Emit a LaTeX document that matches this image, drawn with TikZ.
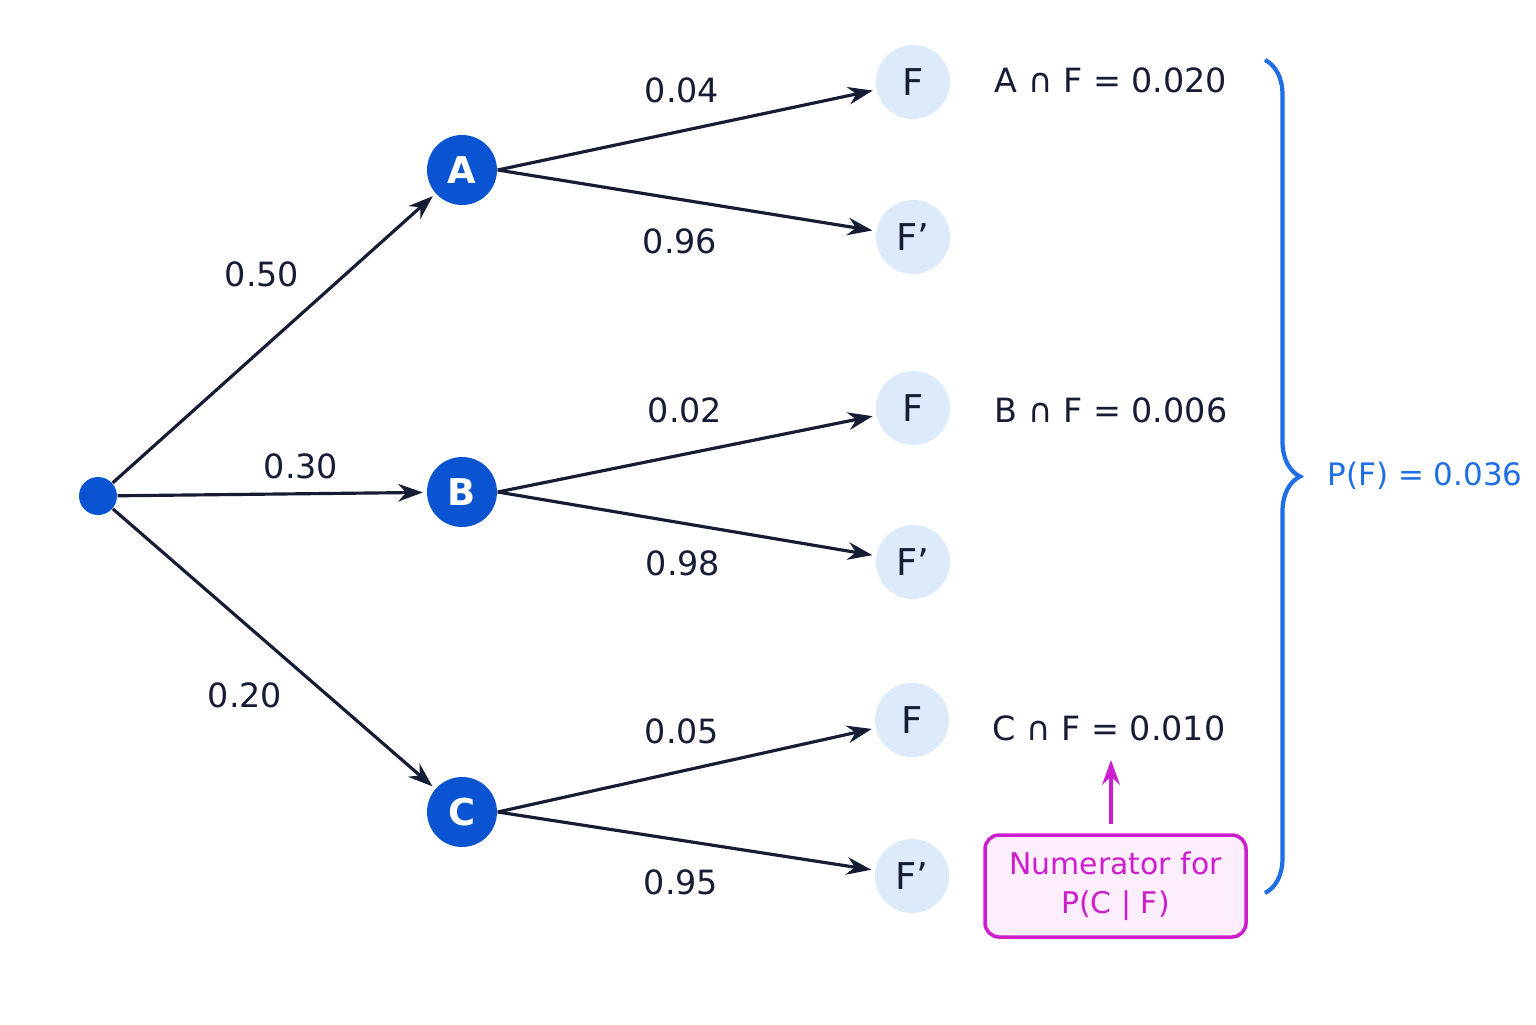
\documentclass[tikz,border=0pt]{standalone}
\usepackage{fontspec}
\setmainfont{DejaVu Sans}
\usetikzlibrary{positioning,arrows.meta,decorations.pathreplacing}
\definecolor{navy}{RGB}{22,28,52}
\definecolor{nodeblue}{RGB}{10,84,210}
\definecolor{leafblue}{RGB}{220,234,250}
\definecolor{bracecol}{RGB}{30,110,230}
\definecolor{magent}{RGB}{205,30,205}
\definecolor{pinkfill}{RGB}{252,238,252}
\begin{document}
\begin{tikzpicture}[x=1cm,y=1cm,>={Stealth[length=7pt,width=5pt]},
	branch/.style={->,draw=navy,line width=0.9pt,shorten >=1pt},
	main node/.style={circle,fill=nodeblue,text=white,minimum size=0.7cm,inner sep=0pt,font=\fontsize{10.5}{12}\selectfont\bfseries},
	leaf node/.style={circle,fill=leafblue,text=navy,minimum size=0.74cm,inner sep=0pt,font=\fontsize{10.5}{12}\selectfont},
	prob/.style={text=navy,font=\fontsize{9.5}{12}\selectfont},
	joint/.style={text=navy,font=\fontsize{9.5}{12}\selectfont}]
	
	\useasboundingbox (0,0) rectangle (15.36,10.24);
	\fill[white] (0,0) rectangle (15.36,10.24);
	
	\node[circle,fill=nodeblue,minimum size=0.38cm,inner sep=0pt] (root) at (0.98,5.28) {};
	\node[main node] (a) at (4.62,8.54) {A};
	\node[main node] (b) at (4.62,5.32) {B};
	\node[main node] (c) at (4.62,2.12) {C};
	
	\node[leaf node] (af) at (9.13,9.42) {F};
	\node[leaf node] (an) at (9.13,7.87) {F'};
	\node[leaf node] (bf) at (9.13,6.16) {F};
	\node[leaf node] (bn) at (9.13,4.62) {F'};
	\node[leaf node] (cf) at (9.12,3.04) {F};
	\node[leaf node] (cn) at (9.12,1.48) {F'};
	
	\draw[branch] (root) -- (a);
	\draw[branch] (root) -- (b);
	\draw[branch] (root) -- (c);
	\draw[branch] (a.east) -- (af);
	\draw[branch] (a.east) -- (an);
	\draw[branch] (b.east) -- (bf);
	\draw[branch] (b.east) -- (bn);
	\draw[branch] (c.east) -- (cf);
	\draw[branch] (c.east) -- (cn);
	
	% branch probabilities
	\node[prob] (pa) at (2.62,7.50) {0.50};
	\node[prob] (pb) at (3.01,5.58) {0.30};
	\node[prob] (pc) at (2.45,3.29) {0.20};
	\node[prob] (paf) at (6.82,9.34) {0.04};
	\node[prob] (pan) at (6.80,7.83) {0.96};
	\node[prob] (pbf) at (6.85,6.14) {0.02};
	\node[prob] (pbn) at (6.83,4.61) {0.98};
	\node[prob] (pcf) at (6.82,2.93) {0.05};
	\node[prob] (pcn) at (6.81,1.42) {0.95};
	
	% joint probabilities
	\node[joint] (jaf) at (11.11,9.44) {A ∩ F = 0.020};
	\node[joint] (jbf) at (11.11,6.14) {B ∩ F = 0.006};
	\node[joint] (jcf) at (11.09,2.96) {C ∩ F = 0.010};
	
	\coordinate (btop) at (12.65,9.64);
	\coordinate (bbot) at (12.65,1.31);
	\draw[bracecol,line width=1.2pt,decorate,decoration={brace,amplitude=0.35cm}] (btop) -- (bbot);
	\node[text=bracecol,font=\fontsize{8.8}{12}\selectfont,anchor=west,inner sep=0pt] (pf) at (13.27,5.48) {P(F) = 0.036};
	
	\node[draw=magent,fill=pinkfill,rounded corners=4pt,line width=1pt,minimum width=2.61cm,
		minimum height=1.02cm,align=center,text=magent,font=\fontsize{8.5}{11}\selectfont] (num) at (11.155,1.38)
		{Numerator for\\P(C | F)};
	\coordinate (nt) at (11.11,2.0);
	\coordinate (nh) at (11.11,2.64);
	\draw[->,magent,line width=1.2pt] (nt) -- (nh);
\end{tikzpicture}
\end{document}
